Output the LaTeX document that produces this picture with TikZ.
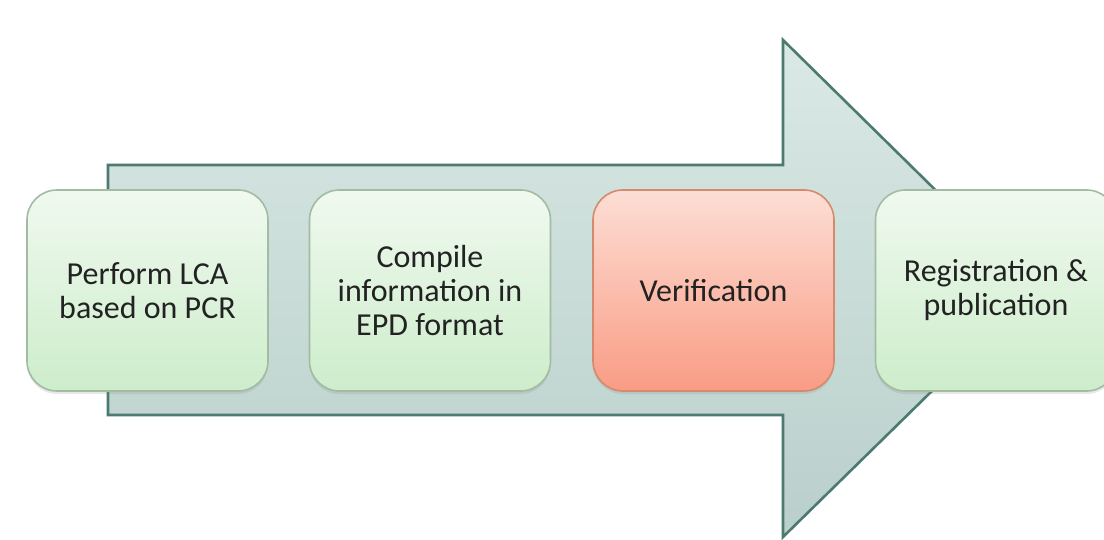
\documentclass[tikz,border=0pt]{standalone}
\usepackage{fontspec}
\setmainfont{Carlito}
\usetikzlibrary{shadows}
\definecolor{arrowline}{HTML}{4C7A71}
\definecolor{arrowtop}{HTML}{DAE9E5}
\definecolor{arrowbot}{HTML}{B9CFCB}
\definecolor{greentop}{HTML}{F0F9EF}
\definecolor{greenbot}{HTML}{CDEDCB}
\definecolor{greenline}{HTML}{A3BBA3}
\definecolor{redtop}{HTML}{FDDED5}
\definecolor{redbot}{HTML}{F99C84}
\definecolor{redline}{HTML}{D5896D}
\definecolor{textgray}{HTML}{222222}
\tikzset{
  stepbox/.style={rectangle, rounded corners=15pt, minimum width=120.5pt,
    minimum height=100.5pt, align=center, text=textgray, line width=0.8pt,
    font=\fontsize{16}{17}\selectfont,
    drop shadow={opacity=0.18, shadow xshift=0pt, shadow yshift=-1.5pt}},
  greenbox/.style={stepbox, draw=greenline, top color=greentop, bottom color=greenbot},
  redbox/.style={stepbox, draw=redline, top color=redtop, bottom color=redbot}
}
\begin{document}
\begin{tikzpicture}[x=0.5pt,y=-0.5pt]
  \clip (0,0) rectangle (1104,540);
  \fill[white] (0,0) rectangle (1104,540);
  % big block arrow behind the steps
  \coordinate (a1) at (108,165);
  \coordinate (a2) at (783,165);
  \coordinate (a3) at (783,40);
  \coordinate (tip) at (1036,289);
  \coordinate (a5) at (783,537);
  \coordinate (a6) at (783,415);
  \coordinate (a7) at (108,415);
  \draw[arrowline, line width=1.3pt, line join=miter, top color=arrowtop, bottom color=arrowbot]
    (a1) -- (a2) -- (a3) -- (tip) -- (a5) -- (a6) -- (a7) -- cycle;
  % process steps
  \node[greenbox] (s1) at (147.5,290.5) {Perform LCA\\based on PCR};
  \node[greenbox] (s2) at (430,290.5) {Compile\\information in\\EPD format};
  \node[redbox]   (s3) at (713.5,290.5) {Verification};
  \node[greenbox] (s4) at (996,290.5) {Registration \&\\publication};
\end{tikzpicture}
\end{document}
